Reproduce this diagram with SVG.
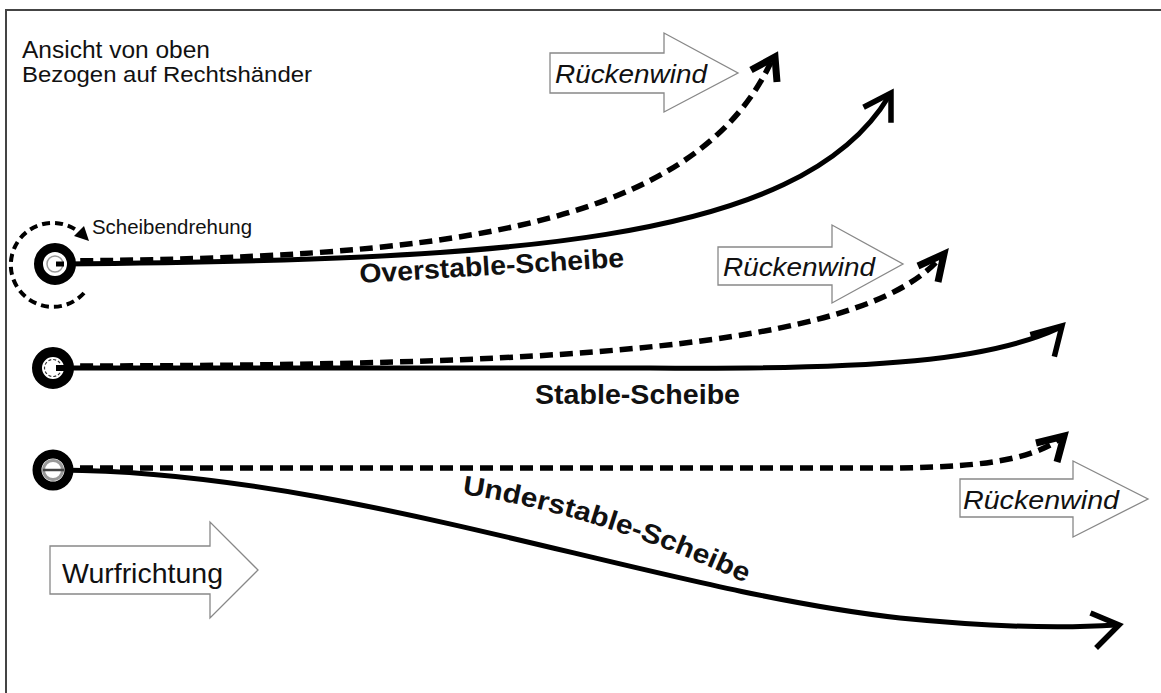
<svg xmlns="http://www.w3.org/2000/svg" width="1161" height="693" viewBox="0 0 1161 693">
<style>
.t{font-family:"Liberation Sans",Arial,sans-serif;fill:#111}
.b{font-weight:bold}
.it{font-style:italic}
.solid{fill:none;stroke:#000;stroke-width:5;stroke-linecap:round}
.dash{fill:none;stroke:#000;stroke-width:5.5;stroke-dasharray:13 7}
.head{fill:none;stroke:#000;stroke-width:5.5;stroke-linecap:square;stroke-linejoin:miter}
.dhead{fill:none;stroke:#000;stroke-width:7;stroke-linecap:butt;stroke-linejoin:miter}
.blk{fill:#fff;stroke:#888;stroke-width:1.3}
</style>
<defs>
<path id="uPath" d="M462,494 C560,508 660,543 750,585"/>
</defs>
<rect x="6" y="10" width="1170" height="700" fill="#fff" stroke="#444" stroke-width="2"/>

<g id="title">
<text class="t" x="22" y="58" font-size="23" textLength="188" lengthAdjust="spacingAndGlyphs">Ansicht von oben</text>
<text class="t" x="22" y="82" font-size="22" fill="#222" textLength="290" lengthAdjust="spacingAndGlyphs">Bezogen auf Rechtshänder</text>
</g>

<g id="connectors">
<!-- overstable -->
<path class="solid" d="M60,264 C500,260 800,245 889,96"/>
<path class="head" d="M866,106 L891,93 L891,120"/>
<path class="dash" d="M60,261 C420,258 690,235 771,62"/>
<path class="dhead" d="M751,70 L775,57 L777,82"/>
<!-- stable -->
<path class="solid" d="M60,368 L650,368 C880,370 990,360 1059,328"/>
<path class="head" d="M1033,334 L1062,326 L1055,354"/>
<path class="dash" d="M60,366 C550,366 860,350 940,258"/>
<path class="dhead" d="M918,266 L944,254 L938,282"/>
<!-- understable -->
<path class="dash" d="M60,468 L880,468 C980,468 1030,460 1060,439"/>
<path class="dhead" d="M1036,443 L1064,436 L1057,462"/>
<path class="solid" d="M60,470 C350,472 650,590 900,618 C1000,628 1070,628 1116,625"/>
<path class="head" d="M1093,614 L1119,625 L1098,646"/>
<!-- disc rotation -->
<path fill="none" stroke="#000" stroke-width="4" stroke-dasharray="8 5" d="M84,293 A42,42 0 1 1 79,232"/>
<polygon fill="#000" points="89,241 84,226 74,236"/>
</g>

<g id="disc-overstable">
<circle cx="55" cy="264" r="16.5" fill="#fff" stroke="#000" stroke-width="9"/>
<circle cx="55" cy="264" r="8" fill="none" stroke="#999" stroke-width="1.5"/>
<path d="M56,264 L64,264" stroke="#000" stroke-width="5"/>
</g>
<g id="label-rotation">
<text class="t" x="92" y="234" font-size="20" textLength="160" lengthAdjust="spacingAndGlyphs">Scheibendrehung</text>
</g>

<g id="disc-stable">
<circle cx="53" cy="368" r="16" fill="#fff" stroke="#000" stroke-width="10"/>
<circle cx="53" cy="368" r="8.5" fill="none" stroke="#333" stroke-width="1.2" stroke-dasharray="3 2"/>
<path d="M56,368 L64,368" stroke="#000" stroke-width="6"/>
</g>

<g id="disc-understable">
<circle cx="53" cy="470" r="16" fill="#fff" stroke="#000" stroke-width="9"/>
<circle cx="53" cy="470" r="9.5" fill="none" stroke="#999" stroke-width="3"/>
<path d="M43,470 L64,470" stroke="#444" stroke-width="2.5"/>
</g>

<g id="label-overstable">
<text class="t b" x="360" y="283" font-size="27" textLength="265" lengthAdjust="spacingAndGlyphs" transform="rotate(-3.5 360 283)">Overstable-Scheibe</text>
</g>
<g id="label-stable">
<text class="t b" x="535" y="404" font-size="27" textLength="205" lengthAdjust="spacingAndGlyphs">Stable-Scheibe</text>
</g>
<g id="label-understable">
<text class="t b" font-size="27"><textPath href="#uPath" textLength="298" lengthAdjust="spacingAndGlyphs">Understable-Scheibe</textPath></text>
</g>

<g id="wind-1">
<polygon class="blk" points="550,53 664,53 664,33 738,73 664,112 664,93 550,93"/>
<text class="t it" x="555" y="83" font-size="26" textLength="152" lengthAdjust="spacingAndGlyphs">Rückenwind</text>
</g>
<g id="wind-2">
<polygon class="blk" points="718,247 832,247 832,225 903,264 832,303 832,285 718,285"/>
<text class="t it" x="723" y="276" font-size="26" textLength="152" lengthAdjust="spacingAndGlyphs">Rückenwind</text>
</g>
<g id="wind-3">
<polygon class="blk" points="960,479 1073,479 1073,461 1148,499 1073,537 1073,517 960,517"/>
<text class="t it" x="963" y="509" font-size="26" textLength="156" lengthAdjust="spacingAndGlyphs">Rückenwind</text>
</g>
<g id="throw-direction">
<polygon class="blk" points="50,546 210,546 210,522 258,570 210,618 210,594 50,594"/>
<text class="t" x="62" y="583" font-size="28" textLength="161" lengthAdjust="spacingAndGlyphs">Wurfrichtung</text>
</g>
</svg>
